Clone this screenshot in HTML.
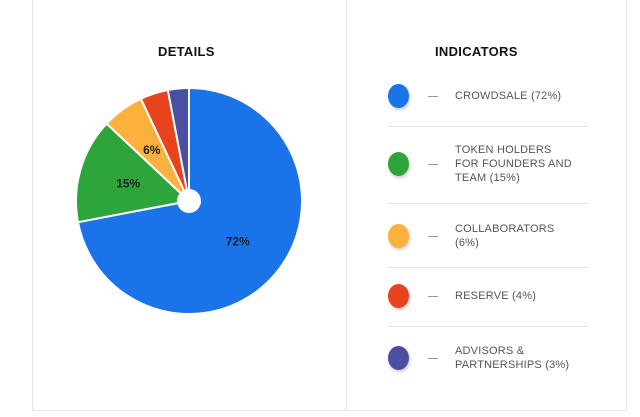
<!DOCTYPE html>
<html><head><meta charset="utf-8"><style>
body{margin:0;width:640px;height:417px;background:#fff;font-family:"Liberation Sans",sans-serif;position:relative;overflow:hidden}
.card{position:absolute;left:32px;top:-5px;width:595px;height:416px;border:1px solid #e6e6e6;box-sizing:border-box}
.div{position:absolute;left:346px;top:0;width:1px;height:411px;background:#e6e6e6}
.t{position:absolute;font-weight:bold;font-size:13px;color:#111;letter-spacing:.3px}
.dot{position:absolute;width:21px;height:24px;border-radius:50%;box-shadow:1px 2px 3px rgba(0,0,0,.2)}
.dash{position:absolute;width:10px;height:1px;background:#999}
.lab{position:absolute;left:455px;font-size:11px;line-height:14px;color:#555;letter-spacing:.2px}
.sep{position:absolute;left:388px;width:200px;height:1px;background:#e3e3e3}
</style></head><body>
<div class="card"></div>
<div class="div"></div>
<div class="t" style="left:158px;top:44px">DETAILS</div>
<div class="t" style="left:435px;top:44px">INDICATORS</div>
<svg id="pie" width="640" height="417" style="position:absolute;left:0;top:0"></svg>
<div id="legend"></div>
<script>
const categories=["CROWDSALE","TOKEN HOLDERS FOR FOUNDERS AND TEAM","COLLABORATORS","RESERVE","ADVISORS & PARTNERSHIPS"];
const values=[72,15,6,4,3];
const colors=["#1a73e8","#2ea53a","#fbb13c","#e8431f","#4b4fa3"];
const legendText=["CROWDSALE (72%)","TOKEN HOLDERS<br>FOR FOUNDERS AND<br>TEAM (15%)","COLLABORATORS<br>(6%)","RESERVE (4%)","ADVISORS &amp;<br>PARTNERSHIPS (3%)"];
const legendY=[96,164,236,296,358];
const NS="http://www.w3.org/2000/svg";
const svg=document.getElementById('pie');
const cx=189,cy=201,r=113;
const total=values.reduce((a,b)=>a+b,0);
let a0=0;
function pt(a,rr){return [cx+rr*Math.sin(a),cy-rr*Math.cos(a)];}
values.forEach((v,i)=>{
  const a1=a0+v/total*2*Math.PI;
  const p0=pt(a0,r),p1=pt(a1,r);
  const large=(a1-a0)>Math.PI?1:0;
  const p=document.createElementNS(NS,'path');
  p.setAttribute('d',`M${cx},${cy}L${p0[0]},${p0[1]}A${r},${r} 0 ${large} 1 ${p1[0]},${p1[1]}Z`);
  p.setAttribute('fill',colors[i]);p.setAttribute('stroke','#fff');p.setAttribute('stroke-width','2');
  
  
  svg.appendChild(p);
  if(v>=5){
    const m=(a0+a1)/2;const lp=pt(m,r*0.56);
    const t=document.createElementNS(NS,'text');
    t.setAttribute('x',lp[0]);t.setAttribute('y',lp[1]+4);t.setAttribute('text-anchor','middle');
    t.setAttribute('font-size','12');t.setAttribute('font-weight','bold');t.setAttribute('fill','#222');
    t.setAttribute('font-family','Liberation Sans, sans-serif');
    t.textContent=v+'%';
    
    
    svg.appendChild(t);
  }
  a0=a1;
});
const hole=document.createElementNS(NS,'circle');
hole.setAttribute('cx',cx);hole.setAttribute('cy',cy);hole.setAttribute('r',12);hole.setAttribute('fill','#fff');


svg.appendChild(hole);
const lg=document.getElementById('legend');
categories.forEach((c,i)=>{
  const y=legendY[i];
  const d=document.createElement('div');d.className='dot';d.style.left='388px';d.style.top=(y-12)+'px';d.style.background=colors[i];
  
  
  lg.appendChild(d);
  const ds=document.createElement('div');ds.className='dash';ds.style.left='428px';ds.style.top=y+'px';
  
  
  lg.appendChild(ds);
  const l=document.createElement('div');l.className='lab';l.innerHTML=legendText[i];
  const lines=legendText[i].split('<br>').length;
  l.style.top=(y-lines*14/2)+'px';
  
  
  lg.appendChild(l);
  if(i<categories.length-1){
    const s=document.createElement('div');s.className='sep';s.style.top=[126,203,267,326][i]+'px';
    
    
    lg.appendChild(s);
  }
});
</script>
</body></html>
